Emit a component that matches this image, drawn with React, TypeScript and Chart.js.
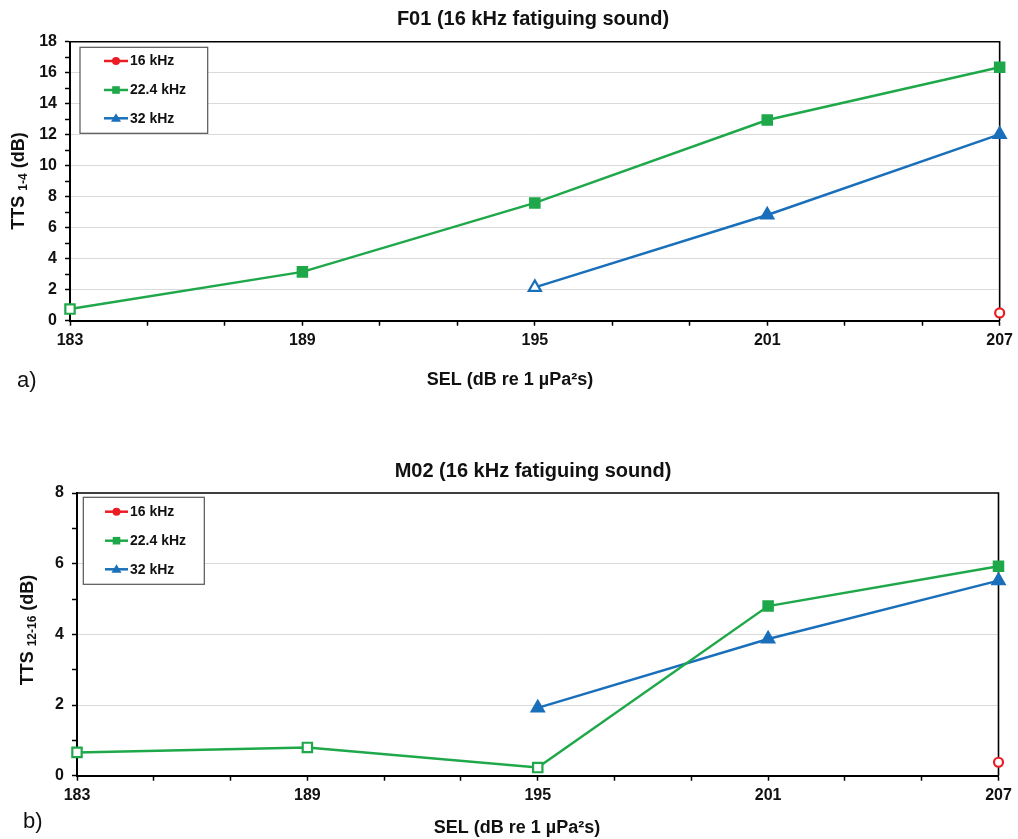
import { useEffect, useRef } from 'react';
import { Chart, registerables } from 'chart.js';

Chart.register(...registerables);

// Sound exposure levels (dB re 1 µPa²s)
const SEL = [183, 189, 195, 201, 207];

// Panel a) F01 — TTS 1-4 (dB)
const F01_16K = [null, null, null, null, 0.5];
const F01_22K = [0.75, 3.15, 7.6, 12.95, 16.35];
const F01_32K = [null, null, 2.15, 6.82, 12.02];
const F01_16K_OPEN = [false, false, false, false, true];
const F01_22K_OPEN = [true, false, false, false, false];
const F01_32K_OPEN = [false, false, true, false, false];

// Panel b) M02 — TTS 12-16 (dB)
const M02_16K = [null, null, null, null, 0.38];
const M02_22K = [0.66, 0.8, 0.23, 4.8, 5.93];
const M02_32K = [null, null, 1.92, 3.87, 5.52];
const M02_16K_OPEN = [false, false, false, false, true];
const M02_22K_OPEN = [true, true, true, false, false];
const M02_32K_OPEN = [false, false, false, false, false];

const SERIES_LABELS = ['16 kHz', '22.4 kHz', '32 kHz'];
const SERIES_COLORS = ['#ec1c24', '#1fa84a', '#1a6fbb'];
const SERIES_SHAPES = ['circle', 'rect', 'triangle'];
const MARKER_RADIUS = [4.5, 6.6, 7];

const FONT = "'Liberation Sans', Arial, Helvetica, sans-serif";

type Panel = {
  title: string;
  letter: string;
  sub: string;
  yMax: number;
  series: (number | null)[][];
  open: boolean[][];
  height: number;
  top: number;
  plotTop: number;
  plotLeft: number;
  rightPad: number;
  xAxisHeight: number;
  titleX: number;
  titleY: number;
  xTitleX: number;
  xTitleY: number;
  letterX: number;
  letterY: number;
  yTitleX: number;
  yTitleY: number;
  legendBox: [number, number, number, number];
  legendRows: number[];
  legendLine: [number, number];
  legendTextX: number;
};

const PANELS: Panel[] = [
  {
    title: 'F01 (16 kHz fatiguing sound)',
    letter: 'a)',
    sub: '1-4',
    yMax: 18,
    series: [F01_16K, F01_22K, F01_32K],
    open: [F01_16K_OPEN, F01_22K_OPEN, F01_32K_OPEN],
    height: 400,
    top: 0,
    plotTop: 41.7,
    plotLeft: 70,
    rightPad: 18,
    xAxisHeight: 79.3,
    titleX: 533,
    titleY: 19,
    xTitleX: 510,
    xTitleY: 380,
    letterX: 17,
    letterY: 381,
    yTitleX: 17.5,
    yTitleY: 181,
    legendBox: [80, 47.3, 207.7, 133.3],
    legendRows: [61, 90, 118.3],
    legendLine: [104, 128],
    legendTextX: 130,
  },
  {
    title: 'M02 (16 kHz fatiguing sound)',
    letter: 'b)',
    sub: '12-16',
    yMax: 8,
    series: [M02_16K, M02_22K, M02_32K],
    open: [M02_16K_OPEN, M02_22K_OPEN, M02_32K_OPEN],
    height: 399,
    top: 440,
    plotTop: 53,
    plotLeft: 77,
    rightPad: 19.5,
    xAxisHeight: 63.3,
    titleX: 533,
    titleY: 31.7,
    xTitleX: 517,
    xTitleY: 388,
    letterX: 23,
    letterY: 382,
    yTitleX: 26,
    yTitleY: 190,
    legendBox: [83.3, 57.3, 204.3, 144.3],
    legendRows: [71.7, 100.7, 129.3],
    legendLine: [105, 128],
    legendTextX: 130,
  },
];

function drawMarker(ctx: CanvasRenderingContext2D, shape: string, x: number, y: number, color: string) {
  ctx.save();
  ctx.fillStyle = color;
  ctx.beginPath();
  if (shape === 'circle') {
    ctx.arc(x, y, 4, 0, Math.PI * 2);
  } else if (shape === 'rect') {
    ctx.rect(x - 3.8, y - 3.8, 7.6, 7.6);
  } else {
    ctx.moveTo(x, y - 5);
    ctx.lineTo(x + 5, y + 3.5);
    ctx.lineTo(x - 5, y + 3.5);
    ctx.closePath();
  }
  ctx.fill();
  ctx.restore();
}

function panelPlugin(p: Panel) {
  return {
    id: 'panelDecor',
    beforeDatasetsDraw(chart: any) {
      const { ctx, chartArea } = chart;
      const { left, right, top, bottom } = chartArea;
      ctx.save();
      ctx.strokeStyle = '#000';
      ctx.lineWidth = 1.6;
      ctx.beginPath();
      ctx.moveTo(left, top);
      ctx.lineTo(right, top);
      ctx.lineTo(right, bottom);
      ctx.stroke();
      ctx.restore();
    },
    afterDraw(chart: any) {
      const ctx: CanvasRenderingContext2D = chart.ctx;
      ctx.save();
      ctx.fillStyle = '#111';
      ctx.textBaseline = 'middle';

      // chart title
      ctx.font = `bold 20px ${FONT}`;
      ctx.textAlign = 'center';
      ctx.fillText(p.title, p.titleX, p.titleY);

      // x axis title
      ctx.font = `bold 18px ${FONT}`;
      ctx.fillText('SEL (dB re 1 µPa²s)', p.xTitleX, p.xTitleY);

      // panel letter
      ctx.font = `22px ${FONT}`;
      ctx.textAlign = 'left';
      ctx.fillText(p.letter, p.letterX, p.letterY);

      // y axis title with subscript
      ctx.save();
      ctx.translate(p.yTitleX, p.yTitleY);
      ctx.rotate(-Math.PI / 2);
      ctx.textBaseline = 'alphabetic';
      const mainFont = `bold 18px ${FONT}`;
      const subFont = `bold 12px ${FONT}`;
      ctx.font = mainFont;
      const w1 = ctx.measureText('TTS ').width;
      const w3 = ctx.measureText(' (dB)').width;
      ctx.font = subFont;
      const w2 = ctx.measureText(p.sub).width;
      let x = -(w1 + w2 + w3) / 2;
      ctx.font = mainFont;
      ctx.fillText('TTS ', x, 6.5);
      x += w1;
      ctx.font = subFont;
      ctx.fillText(p.sub, x, 9.5);
      x += w2;
      ctx.font = mainFont;
      ctx.fillText(' (dB)', x, 6.5);
      ctx.restore();

      // legend
      const [bx1, by1, bx2, by2] = p.legendBox;
      ctx.fillStyle = '#fff';
      ctx.fillRect(bx1, by1, bx2 - bx1, by2 - by1);
      ctx.strokeStyle = '#555';
      ctx.lineWidth = 1.2;
      ctx.strokeRect(bx1, by1, bx2 - bx1, by2 - by1);
      chart.data.datasets.forEach((ds: any, i: number) => {
        const y = p.legendRows[i];
        ctx.strokeStyle = ds.borderColor;
        ctx.lineWidth = 2.5;
        ctx.beginPath();
        ctx.moveTo(p.legendLine[0], y);
        ctx.lineTo(p.legendLine[1], y);
        ctx.stroke();
        drawMarker(ctx, SERIES_SHAPES[i], (p.legendLine[0] + p.legendLine[1]) / 2, y, ds.borderColor);
        ctx.fillStyle = '#111';
        ctx.font = `bold 14px ${FONT}`;
        ctx.textAlign = 'left';
        ctx.textBaseline = 'middle';
        ctx.fillText(ds.label, p.legendTextX, y + 0.5);
      });
      ctx.restore();
    },
  };
}

function PanelChart({ p }: { p: Panel }) {
  const ref = useRef<HTMLCanvasElement | null>(null);

  useEffect(() => {
    if (!ref.current) return;
    const datasets = p.series.map((vals, i) => ({
      label: SERIES_LABELS[i],
      data: SEL.map((x, j) => ({ x, y: vals[j] })),
      borderColor: SERIES_COLORS[i],
      borderWidth: 2.5,
      pointStyle: SERIES_SHAPES[i],
      pointRadius: MARKER_RADIUS[i],
      pointBorderWidth: 2.2,
      pointBorderColor: SERIES_COLORS[i],
      pointBackgroundColor: p.open[i].map((o) => (o ? '#ffffff' : SERIES_COLORS[i])),
      tension: 0,
      spanGaps: false,
      clip: false,
    }));

    const chart = new Chart(ref.current, {
      type: 'line',
      data: { datasets: datasets as any },
      options: {
        animation: false,
        responsive: false,
        devicePixelRatio: 1,
        layout: { padding: { top: p.plotTop, right: p.rightPad, bottom: 0, left: 0 } },
        plugins: {
          legend: { display: false },
          title: { display: false },
          tooltip: { enabled: false },
        },
        scales: {
          x: {
            type: 'linear',
            min: SEL[0],
            max: SEL[SEL.length - 1],
            afterFit: (s: any) => {
              s.height = p.xAxisHeight;
            },
            border: { display: true, color: '#000', width: 2 },
            grid: {
              drawOnChartArea: false,
              drawTicks: true,
              tickLength: 5,
              tickColor: '#000',
              tickWidth: 1.5,
            },
            ticks: {
              stepSize: 2,
              autoSkip: false,
              maxRotation: 0,
              padding: 5,
              color: '#111',
              font: { family: FONT, size: 16, weight: 'bold' },
              callback: (v: any) => (SEL.includes(Number(v)) ? String(v) : ''),
            },
          },
          y: {
            type: 'linear',
            min: 0,
            max: p.yMax,
            afterFit: (s: any) => {
              s.width = p.plotLeft;
            },
            border: { display: true, color: '#000', width: 2 },
            grid: {
              drawTicks: true,
              tickLength: 5,
              tickColor: '#000',
              tickWidth: 1.5,
              lineWidth: 1,
              color: (c: any) => {
                const v = c.tick ? c.tick.value : 0;
                return v % 2 === 0 && v > 0 && v < p.yMax ? '#dadada' : 'rgba(0,0,0,0)';
              },
            },
            ticks: {
              stepSize: 1,
              autoSkip: false,
              padding: 8,
              color: '#111',
              font: { family: FONT, size: 16, weight: 'bold' },
              callback: (v: any) => (Number(v) % 2 === 0 ? String(v) : ''),
            },
          },
        },
      } as any,
      plugins: [panelPlugin(p)],
    });
    return () => chart.destroy();
  }, [p]);

  return (
    <canvas
      ref={ref}
      width={1018}
      height={p.height}
      style={{ position: 'absolute', left: 0, top: p.top, width: 1018, height: p.height, display: 'block' }}
    />
  );
}

export default function App() {
  return (
    <div style={{ position: 'fixed', left: 0, top: 0, width: 1018, height: 839, background: '#fff', overflow: 'hidden' }}>
      {PANELS.map((p) => (
        <PanelChart key={p.letter} p={p} />
      ))}
    </div>
  );
}
